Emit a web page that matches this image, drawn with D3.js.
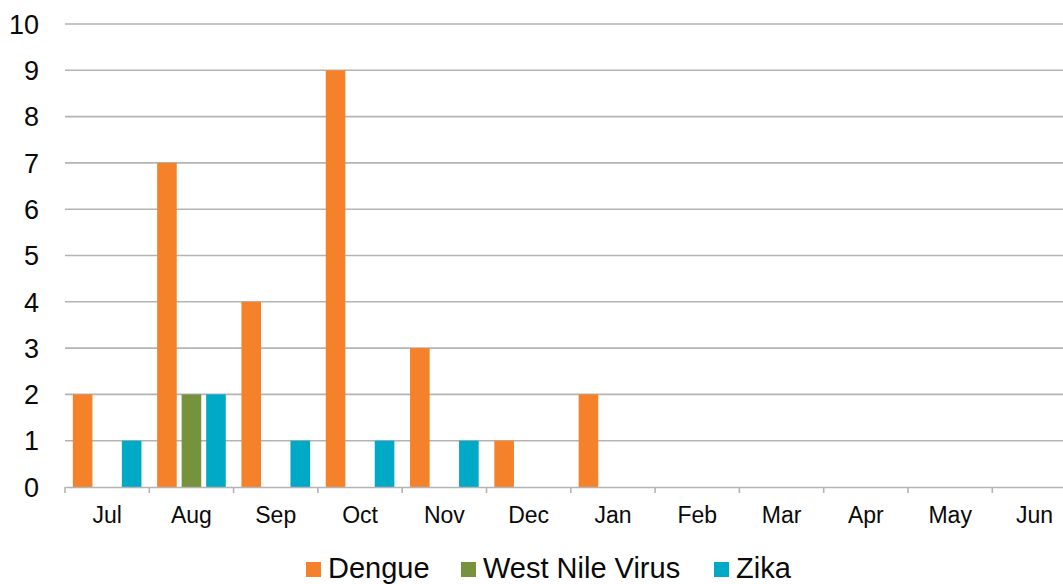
<!DOCTYPE html>
<html>
<head>
<meta charset="utf-8">
<script src="https://cdn.jsdelivr.net/npm/d3@7"></script>
<style>
    body { margin: 0; background: #fff; }
    svg { display: block; font-family: 'Liberation Sans', Arial, sans-serif; }
</style>
</head>
<body>
<svg id="chart" width="1063" height="584"></svg>
<script>
const months = ['Jul', 'Aug', 'Sep', 'Oct', 'Nov', 'Dec', 'Jan', 'Feb', 'Mar', 'Apr', 'May', 'Jun']
const seriesNames = ['Dengue', 'West Nile Virus', 'Zika']
const dengue = [2, 7, 4, 9, 3, 1, 2, 0, 0, 0, 0, 0]
const westNile = [0, 2, 0, 0, 0, 0, 0, 0, 0, 0, 0, 0]
const zika = [1, 2, 1, 1, 1, 0, 0, 0, 0, 0, 0, 0]
const yTicks = [0, 1, 2, 3, 4, 5, 6, 7, 8, 9, 10]
const colors = ['#F5822A', '#77923D', '#00AAC6']

const svg = d3.select('#chart')
const plotLeft = 65
const bandW = 84.3
const plotTop = 24
const plotBottom = 487

const x = d3.scaleBand()
    .domain(months)
    .range([plotLeft, plotLeft + bandW * months.length])

const x1 = d3.scaleBand()
    .domain(seriesNames)
    .range([0, x.bandwidth()])
    .paddingInner(0.2)
    .paddingOuter(0.32)

const y = d3.scaleLinear()
    .domain([0, 10])
    .range([plotBottom, plotTop])

// gridlines
svg.append('g')
    .selectAll('line')
    .data(yTicks.filter(d => d > 0))
    .join('line')
    .attr('x1', plotLeft)
    .attr('x2', 1063)
    .attr('y1', d => y(d))
    .attr('y2', d => y(d))
    .attr('stroke', '#b4b4b4')
    .attr('stroke-width', 1.6)

// y labels
svg.append('g')
    .selectAll('text')
    .data(yTicks)
    .join('text')
    .attr('x', 39)
    .attr('y', d => y(d))
    .attr('dy', '0.36em')
    .attr('text-anchor', 'end')
    .attr('font-size', 27)
    .attr('fill', '#0a0a0a')
    .text(d => d)

// bars
const table = months.map((m, i) => ({
    month: m,
    values: [dengue[i], westNile[i], zika[i]]
}))

const groups = svg.append('g')
    .selectAll('g')
    .data(table)
    .join('g')
    .attr('transform', d => `translate(${x(d.month)},0)`)

groups.selectAll('rect')
    .data(d => d.values.map((v, k) => ({ name: seriesNames[k], value: v, k })).filter(d => d.value > 0))
    .join('rect')
    .attr('x', d => x1(d.name))
    .attr('width', x1.bandwidth())
    .attr('y', d => y(d.value))
    .attr('height', d => y(0) - y(d.value))
    .attr('fill', d => colors[d.k])

// x axis
const xAxis = d3.axisBottom(x)
    .tickSize(0)
    .tickPadding(0)
const gx = svg.append('g')
    .attr('transform', `translate(0,${plotBottom})`)
    .call(xAxis)
gx.select('.domain').attr('stroke', '#b4b4b4').attr('stroke-width', 1.6)
gx.selectAll('text')
    .attr('font-size', 23)
    .attr('font-family', "'Liberation Sans', Arial, sans-serif")
    .attr('fill', '#0a0a0a')
    .attr('y', 36)
    .attr('dy', 0)

// category separator ticks
svg.append('g')
    .selectAll('line')
    .data(months)
    .join('line')
    .attr('x1', d => x(d))
    .attr('x2', d => x(d))
    .attr('y1', plotBottom)
    .attr('y2', plotBottom + 6)
    .attr('stroke', '#b4b4b4')
    .attr('stroke-width', 1.6)

// legend
const legendX = [306, 461, 714]
const legend = svg.append('g')
    .selectAll('g')
    .data(seriesNames)
    .join('g')
    .attr('transform', (d, i) => `translate(${legendX[i]},562)`)

legend.append('rect')
    .attr('width', 15)
    .attr('height', 15)
    .attr('fill', (d, i) => colors[i])

legend.append('text')
    .attr('x', 22)
    .attr('y', 15.5)
    .attr('font-size', 29)
    .attr('fill', '#0a0a0a')
    .text(d => d)
</script>
</body>
</html>
